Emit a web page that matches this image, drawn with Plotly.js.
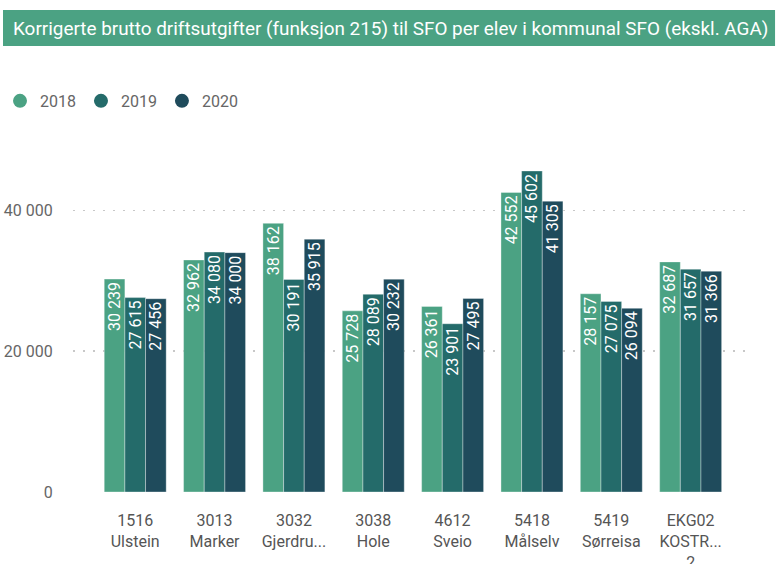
<!DOCTYPE html>
<html>
<head>
<meta charset="utf-8">
<script src="https://cdn.plot.ly/plotly-3.0.1.min.js"></script>
<style>html,body{margin:0;padding:0;background:#fff;}#chart{width:777px;height:564px;}</style>
</head>
<body>
<div id="chart"></div>
<script>
const categories = ["1516<br>Ulstein", "3013<br>Marker", "3032<br>Gjerdru...", "3038<br>Hole", "4612<br>Sveio", "5418<br>Målselv", "5419<br>Sørreisa", "EKG02<br>KOSTR...<br>2"];
const years = ["2018", "2019", "2020"];
const values2018 = [30239, 32962, 38162, 25728, 26361, 42552, 28157, 32687];
const values2019 = [27615, 34080, 30191, 28089, 23901, 45602, 27075, 31657];
const values2020 = [27456, 34000, 35915, 30232, 27495, 41305, 26094, 31366];
const titleText = "Korrigerte brutto driftsutgifter (funksjon 215) til SFO per elev i kommunal SFO (ekskl. AGA)";

const colors = ["#4ba283", "#246b6a", "#1f4b5c"];
const FONT = "Roboto, 'Liberation Sans Narrow', sans-serif";
const series = [values2018, values2019, values2020];

const traces = [];
series.forEach((vals, i) => {
  traces.push({
    type: "bar",
    x: categories,
    y: vals,
    name: years[i],
    showlegend: false,
    marker: {color: colors[i], line: {color: "rgba(255,255,255,0.35)", width: 1}},
    texttemplate: "%{y:,.0f}",
    textposition: "inside",
    insidetextanchor: "end",
    textangle: -90,
    constraintext: "none",
    textfont: {color: "#ffffff", size: 16, family: FONT},
    hoverinfo: "skip"
  });
});
years.forEach((yr, i) => {
  traces.push({
    type: "scatter",
    mode: "markers",
    x: [null], y: [null],
    name: yr,
    marker: {color: colors[i], size: 14, symbol: "circle"},
    showlegend: true
  });
});

const layout = {
  width: 777, height: 564,
  margin: {l: 73, r: 27, t: 140, b: 72, autoexpand: false},
  paper_bgcolor: "#ffffff",
  plot_bgcolor: "#ffffff",
  separators: ", ",
  font: {family: FONT, color: "#666666", size: 14},
  barmode: "group",
  bargap: 0.219,
  bargroupgap: 0,
  showlegend: true,
  legend: {
    orientation: "h", xref: "container", yref: "container",
    x: 0, xanchor: "left", y: 0.821, yanchor: "middle",
    font: {size: 16, color: "#666666", family: FONT},
    itemwidth: 30, tracegroupgap: 0, itemclick: false
  },
  xaxis: {
    type: "category",
    range: [-0.784, 7.748],
    showgrid: false, zeroline: false, showline: false,
    ticks: "", ticklabelstandoff: 17,
    tickfont: {size: 16, color: "#555555", family: FONT},
    fixedrange: true
  },
  yaxis: {
    range: [0, 50000],
    tickvals: [0, 20000, 40000],
    tickformat: ",.0f",
    showgrid: true, gridcolor: "#c8c8c8", griddash: "2px,8px", gridwidth: 1.5,
    zeroline: false, showline: false,
    ticks: "outside", ticklen: 16, tickcolor: "rgba(0,0,0,0)",
    tickfont: {size: 16, color: "#666666", family: FONT},
    fixedrange: true
  },
  shapes: [{
    type: "rect", xref: "paper", yref: "paper",
    x0: -0.1034, x1: 1.037, y0: 1.267, y1: 1.369,
    fillcolor: "#4ba283", line: {width: 0}, layer: "above"
  }],
  annotations: [{
    xref: "paper", yref: "paper", x: -0.091, y: 1.318, xanchor: "left", yanchor: "middle",
    text: titleText, showarrow: false,
    font: {size: 18.9, color: "#ffffff", family: FONT}
  }]
};

Plotly.newPlot("chart", traces, layout, {displayModeBar: false, staticPlot: true});
</script>
</body>
</html>
